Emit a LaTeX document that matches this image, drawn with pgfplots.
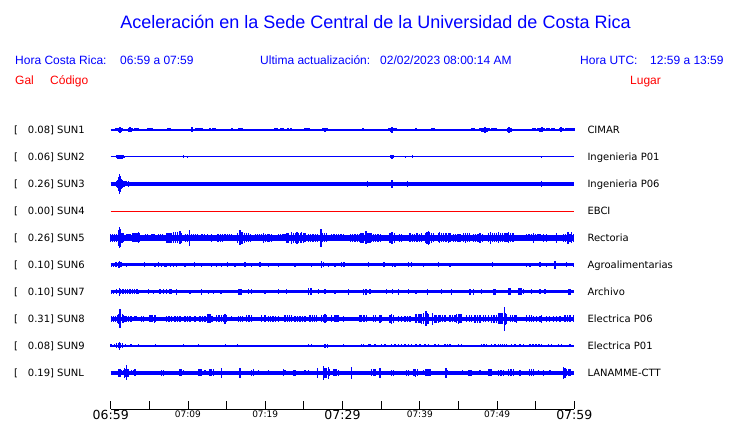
\documentclass[border=0pt]{standalone}
\usepackage{pgfplots}
\pgfplotsset{compat=1.18}
\usepackage{pgfplotstable}
\usepackage{fontspec}
\setmainfont{DejaVu Sans}
\newfontfamily\lib{Liberation Sans}
\definecolor{tblue}{RGB}{0,0,255}
\definecolor{tred}{RGB}{255,0,0}

% t = minutes after 06:59, h = half height of the burst (display units)
\pgfplotstableread{
t h
0.56 1.2
0.69 1.5
0.82 1.5
0.94 1.5
1.07 2
1.2 3
1.33 2
1.46 1.5
2.37 2
2.5 2.5
2.63 2
2.76 1.5
3.14 1.5
3.27 1.5
3.4 1.5
3.53 1.5
3.79 1.2
4.83 1.5
5.08 1.5
5.34 1.5
6.25 1.2
6.68 1.2
7.42 1.5
7.67 1.5
8.45 1.2
10.52 2.5
11.04 1.5
11.3 1.5
11.56 1.5
11.82 1.5
12.2 1.2
12.85 1.5
13.24 1.5
13.5 1.5
15.7 1.5
16.5 1.5
16.73 1.5
16.99 1.5
17.77 1.2
19.58 1.2
19.84 1.2
21.26 1.5
21.52 1.5
22.04 1.5
22.3 1.5
22.95 1.5
23.34 1.5
24.11 1.2
24.5 1.2
25.15 1.5
25.4 1.5
25.66 1.5
25.92 1.2
27.47 1.5
27.73 2
27.99 1.5
29.03 1.2
29.67 1.2
30.58 1.2
31.22 1.2
31.61 1.2
32.39 1.2
32.65 1.5
33.56 1.2
36.02 1.5
36.28 2
36.41 3
36.67 1.5
36.93 1.5
37.31 1.2
37.83 1.2
38.48 1.2
39.51 1.5
39.9 1.2
40.16 1.2
40.81 1.2
41.58 1.5
41.84 1.5
43.4 1.2
44.69 1.2
45.47 1.2
46.76 1.5
47.02 1.5
47.79 1.5
48.05 2
48.31 2
48.44 3
48.7 2
48.96 1.5
49.35 1.5
49.61 1.5
49.87 1.5
50.13 1.2
51.42 2
51.55 3
51.81 2
52.07 1.2
52.72 1.2
54.01 1.2
54.66 1.5
54.92 1.5
55.31 1.5
55.57 2
55.83 2.5
56.09 1.5
56.48 1.5
56.73 1.5
57.12 1.5
57.38 1.5
58.16 1.5
58.29 2.5
58.55 1.5
58.93 1.5
59.19 1.5
59.45 1.5
59.71 1.5
59.97 1.5
}\sunone

\pgfplotstableread{
t h
0.82 1.5
0.94 1.7
1.07 2
1.2 2.3
1.33 2
1.46 1.7
1.59 1.5
1.72 1.2
9.4 1.5
9.91 1
36.2 1.5
36.41 1.7
36.57 1.5
38.13 1
39.08 1.5
55.72 1
}\suntwo

\pgfplotstableread{
t h
0.82 3
0.94 4
1.07 7
1.13 10
1.2 8
1.33 5
1.46 4
1.59 3
1.72 3
1.98 2.5
2.28 3
33.21 3.3
36.31 3.7
36.44 4
38.44 3.3
55.72 3.3
}\sunthree

\pgfplotstableread{
t h
0.0 4
0.25 4
0.5 4
0.75 4
1.05 8
1.15 10.5
1.25 9
1.45 5
1.7 4.5
2.0 3.5
2.25 3.5
2.5 3.5
2.9 4.5
3.15 4.5
3.4 4.5
3.57 5.5
3.75 4.5
4.5 3.5
4.75 3.5
5.35 3.5
5.6 3.5
6.2 3.5
6.45 3.5
6.7 3.5
7.3 5
7.55 5
7.8 5
8.1 5.5
8.35 5.5
8.6 5.5
8.95 6.5
9.2 5
9.65 4
9.9 4
10.17 8
10.5 3.5
10.75 3.5
11.0 3.5
11.25 3.5
11.8 3.5
12.1 3.5
12.5 3.5
13.07 4
13.9 4
14.2 4
14.5 4
14.8 3.5
15.1 3.5
15.4 3.5
15.65 3.5
16.45 5
16.75 7.5
16.9 6
17.1 6
17.35 5
17.6 4.5
17.85 4.5
18.1 4
18.7 3.5
19.0 3.5
19.3 3.5
19.5 3.5
19.75 5
20.0 4
20.25 4
20.5 4
20.8 4
21.7 3.5
22.0 3.5
22.3 3.5
22.55 3.5
22.8 5
23.05 5
23.4 6
23.65 5
23.9 5
24.1 6
24.35 5
24.6 5
24.72 5.5
24.95 5
25.15 4.5
25.6 4
25.9 4
26.2 4
26.5 4
26.8 4
27.22 9
27.45 4.5
27.7 4.5
27.95 4.5
28.6 3.5
28.9 3.5
29.2 3.5
29.5 3.5
29.8 3.5
30.1 3.5
31.0 4
31.3 4
31.6 4
31.9 4
32.2 4
32.4 5
32.65 5
33.05 6.5
33.3 5
33.55 5
33.75 4.5
34.0 4
34.3 4
34.6 4
34.9 4
36.15 5
36.4 6
36.7 5
37.4 4
37.65 4
38.75 4.5
39.05 4
39.35 4
39.65 4.5
39.95 4
40.25 4.5
40.7 5
40.95 6
41.1 7
41.3 6
41.55 5
41.8 4.5
42.4 4.5
42.55 5.5
42.8 4.5
43.1 4.5
43.4 4.5
43.69 5
43.9 4.5
44.35 4
44.65 4
44.95 4
45.2 4
45.65 4.5
45.9 5
46.2 4.5
46.45 4.5
46.95 4
47.25 4
47.55 4
47.8 5
48.1 4
48.9 4.5
49.15 6
49.4 4.5
49.7 4.5
49.95 4.5
50.2 5.5
50.45 4.5
50.75 4.5
51.05 4.5
51.3 4.5
51.45 5.5
51.75 4.5
52.05 4.5
53.85 3.5
54.15 3.5
54.45 3.5
54.7 5
55.0 3.5
55.3 3.5
55.55 3.5
56.0 4
56.4 4
57.72 5
58.6 4
58.85 4
59.1 4
59.2 6
59.45 4
59.65 5.5
59.9 4
}\sunfive

\pgfplotstableread{
t h
0.1 2
0.4 2
0.7 2.5
1.0 3
1.15 3.5
1.35 2.5
2.07 2
4.35 2.5
5.73 2
6.16 2.5
6.6 2
7.03 2
7.25 2
7.71 2
8.1 2
8.54 2
9.62 2
10.82 2.5
11.78 2
13.07 2
13.72 2
14.37 2
15.09 2.5
16.09 2
17.38 2.5
18.25 2
19.32 2.5
20.4 2
21.69 2
23.85 2
26.01 2
27.31 3.5
27.54 2.5
28.16 2
29.03 2
29.9 2.5
30.19 2.5
33.34 2.5
35.37 2.5
36.5 2
36.79 2
38.51 2.5
38.95 2.5
40.46 2
42.4 2.5
43.91 2
49.44 2.5
53.84 2
54.27 2
55.56 2.5
56.43 2
57.5 4
59.01 2.5
59.87 2
}\sunsix

\pgfplotstableread{
t h
0.1 2
0.4 2
0.78 2.5
1.11 3.7
1.3 2.5
1.6 2.5
1.9 2.5
2.2 2.5
2.5 2.5
2.8 2.5
3.1 2.5
3.4 2.5
3.57 2
4.87 2.5
5.52 2
6.38 2.5
6.8 2.5
7.25 2.5
7.68 2.5
7.9 2.5
8.54 3
10.26 2
11.78 3.3
12.63 2
13.28 2
14.27 2
16.5 3.3
16.75 3.3
16.95 3.3
17.8 2.5
18.2 2.5
19.97 2
21.69 2.5
22.78 2.5
25.57 3.5
25.85 3.5
26.0 3.5
26.87 2.5
27.74 2.5
29.03 2
30.75 3
32.69 3
33.04 3
33.56 2.5
35.72 2.5
36.5 2.5
37.22 3
38.51 2.5
39.51 2
40.97 3.3
42.84 2.5
44.13 3
46.5 3
46.93 3
48.01 2.5
49.52 3
49.73 3
51.46 3.5
51.68 3.5
52.75 3.5
52.97 3.5
53.19 3.5
53.4 2.5
54.48 2.5
55.56 2.5
56.2 2.5
59.22 3
59.44 3
}\sunseven

\pgfplotstableread{
t h
0.1 3
0.35 3
0.6 3
0.9 4
1.05 5
1.2 9.5
1.3 6
1.5 4.5
1.7 4
1.85 3
2.05 3
2.3 3
2.55 3
2.7 3
3.15 2.5
3.3 2.5
4.02 3
4.23 3
5.09 3.5
5.35 3.5
5.65 4
5.8 3.5
7.25 3
7.55 3
7.9 3
8.32 3
8.6 3
8.97 3
9.62 3
9.9 3
10.26 3
10.9 3
11.56 3
11.85 3
12.2 3
12.6 4.5
12.85 4.5
13.1 3
13.72 3.5
14.0 3.5
14.3 3.5
14.6 3.5
14.79 5
15.0 3.5
15.66 2.5
16.5 3
16.8 3
17.1 3
17.6 3.5
17.9 3.5
18.2 3.5
19.54 3.5
19.97 3.5
20.4 3
20.7 3
21.0 3
21.35 3
21.69 3
22.56 3.5
22.85 3.5
23.1 3.5
23.42 3.5
23.85 3
24.2 3
24.5 3
24.8 3
25.15 3
25.79 3.5
26.1 3.5
26.4 3.5
26.66 3.5
27.31 3.5
27.55 3.5
27.74 4.5
27.95 3.5
28.6 3.5
29.03 3.5
29.3 3.5
29.45 3.5
30.1 3
32.26 3.5
32.5 3.5
32.8 3.5
33.12 3.5
33.98 3.5
34.3 3.5
34.86 4
35.07 3.5
36.15 4
36.36 5
36.58 4
37.22 3
37.66 3
38.09 3
38.4 3
38.73 3
39.51 4.5
39.8 4.5
40.03 4.5
40.25 5
40.5 5.5
40.81 7.5
41.0 5.5
41.1 5
41.67 6
41.97 4
42.2 4
42.4 4
42.62 3.5
42.9 3.5
43.27 3.5
43.91 3.5
44.2 3.5
44.56 3.5
44.78 4.5
45.0 5
45.2 4.5
45.43 4.5
46.07 3.5
46.4 3.5
46.72 3.5
47.15 4
47.45 4
47.79 4
48.22 3.5
48.5 3.5
48.87 3.5
49.31 4
49.6 4
49.95 4
50.15 5.5
50.4 5.5
50.65 5.5
50.94 11.7
51.1 6
51.25 5
51.7 3.5
52.0 3.5
52.34 3.5
52.56 4
53.84 3.5
54.2 3.5
54.48 3.5
54.7 3
55.1 3
55.56 3
55.78 4
56.43 3
56.8 3
57.28 3
57.72 3
58.16 3
58.79 3.5
59.1 3.5
59.45 3.5
59.87 3.5
}\suneight

\pgfplotstableread{
t h
0.04 1.5
0.47 1.5
0.78 2.5
0.98 2.5
1.11 4
1.29 2.5
1.5 2.5
1.94 1.5
2.63 1.5
3.57 1.5
5.82 1.5
9.4 1.5
10.39 1
11.34 1.5
13.41 1
14.88 1.5
16.38 1.5
17.29 1
19.75 1
23.5 1
25.57 1.5
26.01 1.5
27.73 2
28.08 2
29.45 1
30.15 1.5
31.19 1
32.48 1.5
32.69 1.5
33.34 1.5
33.56 1.5
34.2 1.5
35.07 1.5
35.5 1.5
36.37 1.5
36.79 1.5
37.22 1.5
37.66 1.5
38.09 1.5
38.51 1.5
38.95 1.5
39.51 1.5
40.03 1.5
40.68 1.5
41.1 1.5
41.97 1.5
42.4 1.5
43.26 1.5
43.59 1.5
43.91 1.5
44.99 1.5
45.43 1.5
46.07 1
46.72 1
48.01 1.5
48.31 1.5
48.66 1.5
49.31 1.5
49.73 1.5
50.16 1.5
50.45 1.5
50.71 1.5
50.97 1.5
51.25 1.5
51.9 1.5
52.32 1.5
52.97 1.5
53.4 1.5
54.27 1.5
54.65 1.5
55.04 1.5
55.42 1.5
55.78 1.5
56.63 1.5
57.07 1.5
57.93 1.5
58.37 1.5
59.44 1.5
59.87 1
}\sunnine

\pgfplotstableread{
t h
0.1 2
0.4 2
0.7 2
0.98 3.7
1.2 3.7
1.42 2.5
1.63 2.5
1.76 5.3
1.94 4
2.07 7.5
2.25 4
2.72 2.5
2.93 2.5
3.14 3.5
6.6 3
6.8 3
8.97 3.5
9.19 3.5
9.4 2.5
11.34 3.5
11.56 3.5
11.78 3.5
12.2 2.5
12.85 3.5
13.07 3.5
13.28 3.5
14.37 5.3
16.73 5
18.25 3
18.45 3.5
19.1 2.5
20.4 2.5
22.35 3.5
22.56 2.5
23.63 3
23.85 3
25.15 2.5
25.57 2.5
26.79 5.3
27.51 7.3
27.73 5
27.95 5
28.16 5.8
28.35 3.5
28.81 3.5
29.03 3.5
29.24 3.5
29.45 3
30.1 2
31.19 6.3
33.78 3.5
34.0 3.5
34.2 3.5
34.86 5.3
36.37 3
36.57 3
38.3 3
38.51 3
39.25 3.5
39.45 3.7
39.68 3.5
40.46 2.5
40.81 3.5
41.05 3.5
41.32 3.5
43.4 5
43.6 2.5
45.55 2.5
46.29 3
46.5 3
46.72 3
47.79 2.5
48.87 3.5
49.1 3.5
49.31 3.5
50.16 3
50.5 3
50.81 3
51.46 3.5
51.8 3.5
52.1 3.5
52.97 3
54.17 3.5
54.45 3.5
54.69 3.5
55.34 2.5
55.99 3
56.85 2.5
58.57 6
58.79 5
59.01 3.5
59.22 3.5
59.44 3.5
}\sunl

\pgfplotsset{
  spk/.style={draw=none, mark=none, forget plot,
    error bars/.cd, y dir=both, y explicit, error mark=none,
    error bar style={draw=tblue, line width=1.3pt}},
  base/.style={tblue, line width=#1, forget plot}
}

\begin{document}
\begin{tikzpicture}
\path[use as bounding box] (0,0) rectangle (740pt,423pt);

% header
\node[anchor=base, text=tblue, inner sep=0pt] at (375.5pt,394.5pt)
  {\lib\fontsize{18}{20}\selectfont Aceleración en la Sede Central de la Universidad de Costa Rica};
\begin{scope}[every node/.style={anchor=base west, inner sep=0pt, text=tblue, font=\lib\fontsize{12}{14}\selectfont}]
\node at (15pt,358.7pt) {Hora Costa Rica:};
\node at (120pt,358.7pt) {06:59 a 07:59};
\node at (260pt,358.7pt) {Ultima actualización:};
\node at (380pt,358.7pt) {02/02/2023 08:00:14 AM};
\node at (580pt,358.7pt) {Hora UTC:};
\node at (650pt,358.7pt) {12:59 a 13:59};
\node[text=tred] at (15pt,338.7pt) {Gal};
\node[text=tred] at (50pt,338.7pt) {Código};
\node[text=tred] at (630pt,338.7pt) {Lugar};
\end{scope}

% station labels
\begin{scope}[every node/.style={anchor=base west, inner sep=0pt, font=\fontsize{10}{12}\selectfont}]
\node at (14pt,289.3pt) {[};  \node at (27.7pt,289.3pt) {0.08] SUN1}; \node at (587.3pt,289.3pt) {CIMAR};
\node at (14pt,262.3pt) {[};  \node at (27.7pt,262.3pt) {0.06] SUN2}; \node at (587.3pt,262.3pt) {Ingenieria P01};
\node at (14pt,235.3pt) {[};  \node at (27.7pt,235.3pt) {0.26] SUN3}; \node at (587.3pt,235.3pt) {Ingenieria P06};
\node at (14pt,208.3pt) {[};  \node at (27.7pt,208.3pt) {0.00] SUN4}; \node at (587.3pt,208.3pt) {EBCI};
\node at (14pt,181.3pt) {[};  \node at (27.7pt,181.3pt) {0.26] SUN5}; \node at (587.3pt,181.3pt) {Rectoria};
\node at (14pt,154.3pt) {[};  \node at (27.7pt,154.3pt) {0.10] SUN6}; \node at (587.3pt,154.3pt) {Agroalimentarias};
\node at (14pt,127.3pt) {[};  \node at (27.7pt,127.3pt) {0.10] SUN7}; \node at (587.3pt,127.3pt) {Archivo};
\node at (14pt,100.3pt) {[};  \node at (27.7pt,100.3pt) {0.31] SUN8}; \node at (587.3pt,100.3pt) {Electrica P06};
\node at (14pt,73.3pt)  {[};  \node at (27.7pt,73.3pt)  {0.08] SUN9}; \node at (587.3pt,73.3pt)  {Electrica P01};
\node at (14pt,46.3pt)  {[};  \node at (27.7pt,46.3pt)  {0.19] SUNL}; \node at (587.3pt,46.3pt)  {LANAMME-CTT};
\end{scope}

\begin{axis}[
  at={(110.7pt,14pt)}, anchor=south west,
  scale only axis, width=463.6pt, height=293pt,
  xmin=0, xmax=60, ymin=-36, ymax=257,
  axis x line*=bottom, axis y line=none,
  axis line style={black, line width=0.8pt},
  clip=false,
  xtick={0,5,...,60},
  tick align=inside, major tick length=8pt,
  tick style={black, line width=0.8pt},
  xticklabels={{\fontsize{12.5}{13}\selectfont 06:59},{},
    {\fontsize{9}{10}\selectfont 07:09},{},
    {\fontsize{9}{10}\selectfont 07:19},{},
    {\fontsize{12.5}{13}\selectfont 07:29},{},
    {\fontsize{9}{10}\selectfont 07:39},{},
    {\fontsize{9}{10}\selectfont 07:49},{},
    {\fontsize{12.5}{13}\selectfont 07:59}},
  xticklabel style={anchor=north, inner sep=1.5pt},
]
% SUN1
\addplot[base=1.3pt] coordinates {(0,243) (60,243)};
\addplot[spk] table[x=t, y expr=243, y error=h] {\sunone};
% SUN2
\addplot[base=1pt] coordinates {(0,216) (60,216)};
\addplot[spk] table[x=t, y expr=216, y error=h] {\suntwo};
% SUN3
\addplot[base=3.7pt] coordinates {(0,189) (60,189)};
\addplot[spk] table[x=t, y expr=189, y error=h] {\sunthree};
% SUN4
\addplot[tred, line width=0.9pt, forget plot] coordinates {(0,162) (60,162)};
% SUN5
\addplot[base=5.5pt] coordinates {(0,135) (60,135)};
\addplot[spk] table[x=t, y expr=135, y error=h] {\sunfive};
% SUN6
\addplot[base=3pt] coordinates {(0,108) (60,108)};
\addplot[spk] table[x=t, y expr=108, y error=h] {\sunsix};
% SUN7
\addplot[base=3pt] coordinates {(0,81) (60,81)};
\addplot[spk] table[x=t, y expr=81, y error=h] {\sunseven};
% SUN8
\addplot[base=4pt] coordinates {(0,54) (60,54)};
\addplot[spk] table[x=t, y expr=54, y error=h] {\suneight};
% SUN9
\addplot[base=1.2pt] coordinates {(0,27) (60,27)};
\addplot[spk] table[x=t, y expr=27, y error=h] {\sunnine};
% SUNL
\addplot[base=3.3pt] coordinates {(0,0) (60,0)};
\addplot[spk] table[x=t, y expr=0, y error=h] {\sunl};
\end{axis}
\end{tikzpicture}
\end{document}
